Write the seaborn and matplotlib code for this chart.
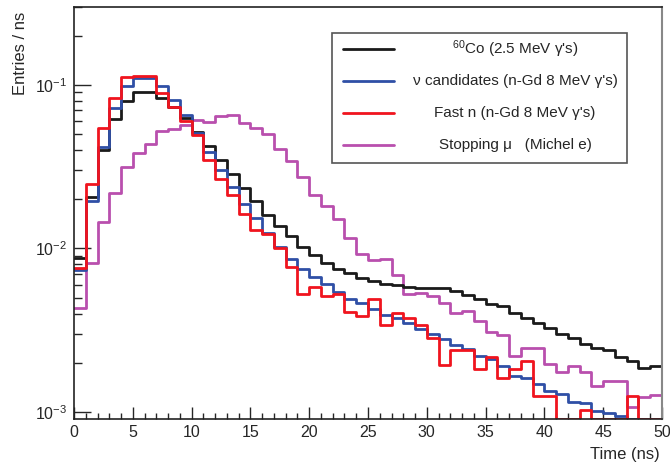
import numpy as np
import pandas as pd
import matplotlib
matplotlib.use("Agg")
import matplotlib.pyplot as plt
import seaborn as sns
from matplotlib.ticker import MultipleLocator, LogLocator, NullFormatter
from matplotlib.patches import Rectangle

# time bins, 1 ns wide from 0 to 50 ns
bin_centers = np.arange(50) + 0.5

# entries / ns (0 = empty bin)
co60 = [0.0088, 0.0206, 0.0398, 0.0618, 0.0793, 0.090, 0.090, 0.0837, 0.0738, 0.0626,
        0.0516, 0.0421, 0.0346, 0.0287, 0.0234, 0.0194, 0.0161, 0.0138, 0.0119, 0.0102,
        0.0091, 0.00818, 0.0075, 0.00711, 0.00663, 0.00629, 0.00603, 0.00595, 0.00581, 0.00577,
        0.00575, 0.0057, 0.00548, 0.0052, 0.00493, 0.00456, 0.00446, 0.00406, 0.00375, 0.0035,
        0.00326, 0.00302, 0.00285, 0.0026, 0.00245, 0.00239, 0.00216, 0.00206, 0.00185, 0.0019]

nu_cand = [0.0074, 0.0196, 0.042, 0.0721, 0.099, 0.110, 0.110, 0.0986, 0.081, 0.0656,
           0.051, 0.0392, 0.0303, 0.0238, 0.0188, 0.0154, 0.0125, 0.0102, 0.00865, 0.0075,
           0.00668, 0.00603, 0.00542, 0.00494, 0.00462, 0.00429, 0.00391, 0.00374, 0.00349, 0.00324,
           0.0030, 0.00281, 0.00256, 0.00244, 0.00221, 0.00212, 0.00192, 0.00167, 0.00162, 0.00149,
           0.00135, 0.00129, 0.00115, 0.00113, 0.00102, 0.00098, 0.00095, 0, 0, 0]

fast_n = [0.0076, 0.0248, 0.0544, 0.0837, 0.1124, 0.1135, 0.114, 0.089, 0.0738, 0.0603,
          0.0495, 0.0349, 0.0266, 0.0211, 0.0163, 0.0130, 0.0123, 0.0100, 0.00773, 0.00524,
          0.00584, 0.00513, 0.00524, 0.00409, 0.00387, 0.00489, 0.00342, 0.00406, 0.00374, 0.00339,
          0.00283, 0.00195, 0.0024, 0.0024, 0.00183, 0.00217, 0.00161, 0.00183, 0.00206, 0.00126,
          0.00126, 0, 0, 0.00103, 0, 0, 0, 0.00126, 0, 0]

stop_mu = [0.00435, 0.0081, 0.01455, 0.022, 0.0315, 0.0383, 0.0436, 0.0526, 0.054, 0.057,
           0.061, 0.0597, 0.0647, 0.0656, 0.0589, 0.0545, 0.0502, 0.0407, 0.0341, 0.0274,
           0.0213, 0.0182, 0.0151, 0.0116, 0.0092, 0.0085, 0.00857, 0.00684, 0.00524, 0.00532,
           0.0051, 0.00467, 0.00406, 0.00415, 0.0036, 0.00308, 0.00295, 0.00219, 0.00248, 0.00248,
           0.00196, 0.00175, 0.0019, 0.00175, 0.00144, 0.00155, 0.00155, 0.00107, 0.00123, 0.00127]

labels = [r"$^{60}$Co (2.5 MeV γ's)",
          "ν candidates (n-Gd 8 MeV γ's)",
          "Fast n (n-Gd 8 MeV γ's)",
          "Stopping μ   (Michel e)"]
colors = ["#1a1a1a", "#2f4fa6", "#f0141e", "#b94fae"]

ymin, ymax = 0.000906, 0.30

sns.set_style("ticks")
plt.rcParams["font.family"] = ["Liberation Sans", "DejaVu Sans"]
plt.rcParams["mathtext.fontset"] = "custom"
plt.rcParams["mathtext.rm"] = "Liberation Sans"
plt.rcParams["mathtext.it"] = "Liberation Sans:italic"
plt.rcParams["axes.unicode_minus"] = False

fig = plt.figure(figsize=(6.7, 4.68), dpi=100)
ax = fig.add_axes([74 / 670, 1 - 419 / 468, 588 / 670, 412 / 468])

series = [co60, nu_cand, fast_n, stop_mu]
order = [3, 0, 1, 2]
for i in order:
    # empty bins are drawn on the bottom of the frame, as ROOT does
    df = pd.DataFrame({"t": bin_centers,
                       "w": np.clip(np.array(series[i], dtype=float), ymin, None)})
    sns.histplot(data=df, x="t", weights="w", binwidth=1, binrange=(0, 50),
                 element="step", fill=False, color=colors[i], linewidth=2.0, ax=ax)

ax.set_yscale("log")
ax.set_xlim(0, 50)
ax.set_ylim(ymin, ymax)
ax.set_xlabel("")
ax.set_ylabel("")

ax.xaxis.set_major_locator(MultipleLocator(5))
ax.xaxis.set_minor_locator(MultipleLocator(1))
ax.yaxis.set_major_locator(LogLocator(base=10))
ax.yaxis.set_minor_locator(LogLocator(base=10, subs=np.arange(2, 10)))
ax.yaxis.set_minor_formatter(NullFormatter())

ax.tick_params(axis="x", which="major", direction="in", length=8.6, width=1, labelsize=11.5, pad=4)
ax.tick_params(axis="x", which="minor", direction="in", length=4.3, width=1)
ax.tick_params(axis="y", which="major", direction="in", length=12, width=1, labelsize=11.5, pad=5)
ax.tick_params(axis="y", which="minor", direction="in", length=6, width=1)
ax.tick_params(top=False, right=False, which="both")

for side in ["left", "bottom", "top"]:
    ax.spines[side].set_color("#222222")
    ax.spines[side].set_linewidth(1.2)
ax.spines["right"].set_color("#888888")
ax.spines["right"].set_linewidth(1.5)

fig.text(0.030, 0.975, "Entries / ns", rotation=90, ha="center", va="top", fontsize=12)
fig.text(0.985, 0.028, "Time (ns)", ha="right", va="center", fontsize=12)

# legend box drawn ROOT style, text centred
ax.add_patch(Rectangle((0.439, 0.621), 0.501, 0.315, transform=ax.transAxes,
                       fill=False, edgecolor="#555555", linewidth=1.2, zorder=5))
rows = [0.898, 0.820, 0.742, 0.664]
for i in range(4):
    ax.plot([0.457, 0.544], [rows[i], rows[i]], transform=ax.transAxes,
            color=colors[i], linewidth=2.0, zorder=6)
    ax.text(0.750, rows[i], labels[i], transform=ax.transAxes,
            ha="center", va="center", fontsize=11, zorder=6)

fig.savefig("out.png", dpi=100)
